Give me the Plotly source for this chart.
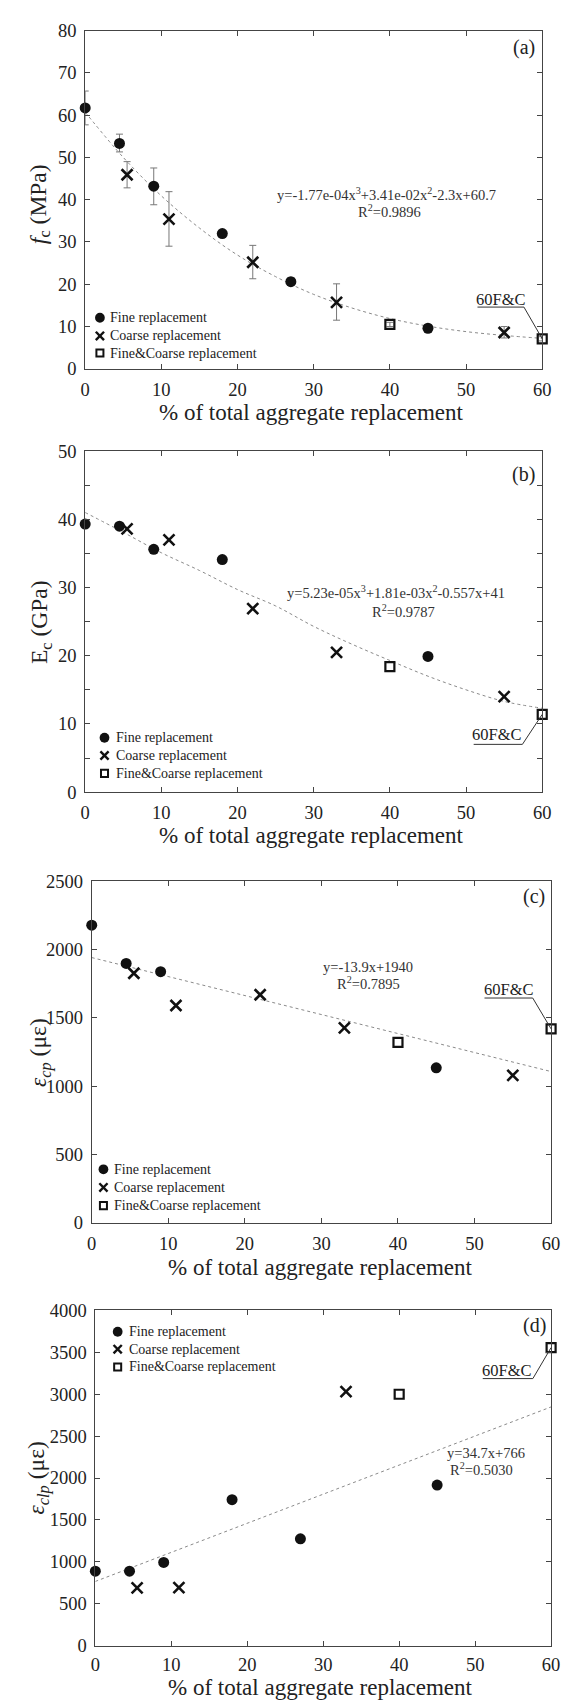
import plotly.graph_objects as go

W, H = 572, 1703
FONT = "Liberation Serif, Times New Roman, serif"
INK = "#111111"
AXC = "#444444"
TXT = "#222222"

# ---------------- data ----------------
trend_x = [0, 5, 10, 15, 20, 25, 30, 35, 40, 45, 50, 55, 60]

# (a) compressive strength f_c (MPa)
a_fine_x = [0, 4.5, 9, 18, 27, 45]
a_fine_y = [61.7, 53.3, 43.2, 32.0, 20.6, 9.6]
a_fine_ep = [4.0, 2.2, 4.3, 0.6, 0.9, 0.6]
a_fine_em = [4.0, 2.0, 4.4, 0.6, 0.9, 0.6]
a_coarse_x = [5.5, 11, 22, 33, 55]
a_coarse_y = [45.9, 35.4, 25.2, 15.7, 8.6]
a_coarse_ep = [3.1, 6.5, 4.0, 4.4, 1.4]
a_coarse_em = [3.1, 6.4, 3.9, 4.2, 1.3]
a_fc_x = [40, 60]
a_fc_y = [10.5, 7.1]
a_fc_e = [0.5, 0.5]
a_trend_y = [60.7, 50.0, 40.9, 33.3, 26.9, 21.8, 17.6, 14.4, 11.9, 10.1, 8.8, 7.9, 7.2]

# (b) elastic modulus E_c (GPa)
b_fine_x = [0, 4.5, 9, 18, 45]
b_fine_y = [39.3, 39.0, 35.6, 34.1, 19.9]
b_coarse_x = [5.5, 11, 22, 33, 55]
b_coarse_y = [38.6, 37.0, 26.9, 20.5, 14.0]
b_fc_x = [40, 60]
b_fc_y = [18.4, 11.4]
b_trend_y = [41.0, 38.1, 35.1, 32.5, 29.7, 27.3, 24.3, 21.7, 19.3, 17.0, 15.0, 13.3, 12.3]

# (c) peak strain eps_cp (micro-strain)
c_fine_x = [0, 4.5, 9, 45]
c_fine_y = [2177, 1897, 1837, 1133]
c_coarse_x = [5.5, 11, 22, 33, 55]
c_coarse_y = [1825, 1589, 1668, 1425, 1078]
c_fc_x = [40, 60]
c_fc_y = [1319, 1418]
c_trend_x = [0, 60]
c_trend_y = [1940, 1106]

# (d) eps_clp (micro-strain)
d_fine_x = [0, 4.5, 9, 18, 27, 45]
d_fine_y = [888, 888, 993, 1741, 1274, 1916]
d_coarse_x = [5.5, 11, 33]
d_coarse_y = [689, 693, 3030]
d_fc_x = [40, 60]
d_fc_y = [2999, 3556]
d_trend_x = [0, 60]
d_trend_y = [766, 2848]

legend_names = ["Fine replacement", "Coarse replacement", "Fine&amp;Coarse replacement"]
x_title = "% of total aggregate replacement"
y_titles = ["<i>f</i><sub>c</sub> (MPa)", "E<sub>c</sub> (GPa)",
            "<i>ε<sub>cp</sub></i> (με)", "<i>ε<sub>clp</sub></i> (με)"]
panel_tags = ["(a)", "(b)", "(c)", "(d)"]
eq_texts = ["y=-1.77e-04x<sup>3</sup>+3.41e-02x<sup>2</sup>-2.3x+60.7",
            "y=5.23e-05x<sup>3</sup>+1.81e-03x<sup>2</sup>-0.557x+41",
            "y=-13.9x+1940", "y=34.7x+766"]
r2_texts = ["R<sup>2</sup>=0.9896", "R<sup>2</sup>=0.9787",
            "R<sup>2</sup>=0.7895", "R<sup>2</sup>=0.5030"]

# ---------------- figure ----------------
fig = go.Figure()


def px_x(p):
    return p / W


def px_y(p):
    return 1 - p / H


fine_marker = dict(symbol="circle", size=11, color=INK)
coarse_marker = dict(symbol="x-thin", size=11, color=INK, line=dict(width=2.6, color=INK))
fc_marker = dict(symbol="square-open", size=9, color=INK, line=dict(width=2.2, color=INK))
trend_line = dict(color="#8a8a8a", width=1, dash="dot")


def add_panel(idx, fine, coarse, fc, trend, errs=None):
    xa = "x" if idx == 1 else f"x{idx}"
    ya = "y" if idx == 1 else f"y{idx}"
    fig.add_trace(go.Scatter(x=trend[0], y=trend[1], mode="lines", line=trend_line,
                             line_shape="spline", showlegend=False, xaxis=xa, yaxis=ya,
                             hoverinfo="skip"))
    if errs:
        for (ex, ey, ep, em) in errs:
            fig.add_trace(go.Scatter(x=ex, y=ey, mode="markers",
                                     marker=dict(size=1, color="rgba(0,0,0,0)"),
                                     error_y=dict(type="data", array=ep, arrayminus=em,
                                                  color="#777777", thickness=1, width=3.5),
                                     showlegend=False, xaxis=xa, yaxis=ya, cliponaxis=False))
    for (sx, sy), mk, nm in zip([fine, coarse, fc], [fine_marker, coarse_marker, fc_marker],
                                legend_names):
        fig.add_trace(go.Scatter(x=sx, y=sy, mode="markers", marker=mk, name=nm,
                                 xaxis=xa, yaxis=ya, showlegend=False, cliponaxis=False))


add_panel(1, (a_fine_x, a_fine_y), (a_coarse_x, a_coarse_y), (a_fc_x, a_fc_y),
          (trend_x, a_trend_y),
          errs=[(a_fine_x, a_fine_y, a_fine_ep, a_fine_em),
                (a_coarse_x, a_coarse_y, a_coarse_ep, a_coarse_em),
                (a_fc_x, a_fc_y, a_fc_e, a_fc_e)])
add_panel(2, (b_fine_x, b_fine_y), (b_coarse_x, b_coarse_y), (b_fc_x, b_fc_y),
          (trend_x, b_trend_y))
add_panel(3, (c_fine_x, c_fine_y), (c_coarse_x, c_coarse_y), (c_fc_x, c_fc_y),
          (c_trend_x, c_trend_y))
add_panel(4, (d_fine_x, d_fine_y), (d_coarse_x, d_coarse_y), (d_fc_x, d_fc_y),
          (d_trend_x, d_trend_y))

# panel geometry in pixels: (left, right, top, bottom)
geo = {
    1: (74, 542.5, 12.7, 355),
    2: (74, 542.5, 438.3, 783.3),
    3: (80.7, 551.6, 873.3, 1219),
    4: (84.4, 551.6, 1307.7, 1647),
}
yranges = {1: (0, 80, 10), 2: (0, 50, 10), 3: (0, 2500, 500), 4: (0, 4000, 500)}
x_standoff = {1: 4, 2: 4, 3: 4, 4: 2}

axis_common = dict(showline=True, linecolor=AXC, linewidth=1, mirror="ticks",
                   ticks="inside", ticklen=5, tickcolor=AXC, tickwidth=1,
                   showgrid=False, zeroline=False,
                   tickfont=dict(family=FONT, size=18.5, color=TXT))

layout = dict(width=W, height=H, margin=dict(l=0, r=0, t=0, b=0),
              paper_bgcolor="white", plot_bgcolor="white",
              font=dict(family=FONT, color=TXT), showlegend=False)

for i in range(1, 5):
    l, r, t, b = geo[i]
    xk = "xaxis" if i == 1 else f"xaxis{i}"
    yk = "yaxis" if i == 1 else f"yaxis{i}"
    ya = "y" if i == 1 else f"y{i}"
    xa = "x" if i == 1 else f"x{i}"
    lo, hi, dt = yranges[i]
    layout[xk] = dict(axis_common, domain=[px_x(l), px_x(r)], range=[0, 60], dtick=10,
                      tick0=0, anchor=ya, ticklabelstandoff=x_standoff[i])
    ydict = dict(axis_common, domain=[px_y(b), px_y(t)], range=[lo, hi], dtick=dt,
                 tick0=0, anchor=xa, ticklabelstandoff=4)
    if i == 2:
        ydict["minor"] = dict(dtick=5, ticks="inside", ticklen=5, tickcolor=AXC)
    layout[yk] = ydict

fig.update_layout(**layout)

ann = []
shapes = []


def text(xref, yref, x, y, s, size, color=TXT, angle=0, xanchor="center"):
    ann.append(dict(xref=xref, yref=yref, x=x, y=y, text=s, showarrow=False,
                    font=dict(family=FONT, size=size, color=color), textangle=angle,
                    xanchor=xanchor, yanchor="middle"))


# axis titles (paper, pixel positions)
x_title_pos = [(306, 399), (306, 827), (315, 1264), (315, 1689)]
y_title_pos = [(27, 188), (29, 611), (27, 1047), (25.5, 1477)]
for (xp, yp), (tx, ty), yt in zip(x_title_pos, y_title_pos, y_titles):
    text("paper", "paper", px_x(xp), px_y(yp), x_title, 23)
    text("paper", "paper", px_x(tx), px_y(ty), yt, 23.5, angle=-90)

# panel labels, equations (data positions)
refs = [("x", "y"), ("x2", "y2"), ("x3", "y3"), ("x4", "y4")]
tag_pos = [(57.6, 75.9), (57.6, 46.6), (57.8, 2384), (57.8, 3817)]
eq_pos = [(39.6, 41.3), (40.8, 29.4), (36.1, 1873), (51.4, 2298)]
r2_pos = [(40.0, 37.4), (41.8, 26.6), (36.1, 1753), (50.9, 2103)]
EQ = "#333333"
for (xr, yr), tg, tp, eq, ep, r2, rp in zip(refs, panel_tags, tag_pos, eq_texts, eq_pos,
                                           r2_texts, r2_pos):
    text(xr, yr, tp[0], tp[1], tg, 20)
    text(xr, yr, ep[0], ep[1], eq, 14.5, EQ)
    text(xr, yr, rp[0], rp[1], r2, 14.5, EQ)

# 60F&C callouts: (xref, yref, text_x, text_y, underline_y, x0, x1, target_x, target_y)
callouts = [
    ("x", "y", 54.6, 16.5, 14.6, 51.5, 57.6, a_fc_x[-1], a_fc_y[-1]),
    ("x2", "y2", 54.1, 8.4, 7.0, 51.0, 57.4, b_fc_x[-1], b_fc_y[-1]),
    ("x3", "y3", 54.5, 1710, 1644, 51.3, 57.6, c_fc_x[-1], c_fc_y[-1]),
    ("x4", "y4", 54.2, 3285, 3186, 51.0, 57.6, d_fc_x[-1], d_fc_y[-1]),
]
for xr, yr, tx, ty, uy, x0, x1, px, py in callouts:
    text(xr, yr, tx, ty, "60F&amp;C", 16.5)
    shapes.append(dict(type="line", xref=xr, yref=yr, x0=x0, x1=x1, y0=uy, y1=uy,
                       line=dict(color="#333333", width=1)))
    shapes.append(dict(type="line", xref=xr, yref=yr, x0=x1, x1=px, y0=uy, y1=py,
                       line=dict(color="#333333", width=1)))

# hand-placed legends (pixel positions): marker centre x, text start x, row y's
legend_geo = [
    (89.1, 97.5, [303.3, 321.7, 339.0]),
    (93.8, 103.6, [728.3, 746.3, 764.3]),
    (92.7, 101.0, [1165.0, 1183.3, 1201.7]),
    (107.3, 117.1, [1329.3, 1347.0, 1365.0]),
]
for mx, tx, rows in legend_geo:
    r = 5.0
    cy = rows[0]
    shapes.append(dict(type="circle", xref="paper", yref="paper",
                       x0=px_x(mx - r), x1=px_x(mx + r), y0=px_y(cy + r), y1=px_y(cy - r),
                       fillcolor=INK, line=dict(width=0)))
    s = 4.2
    cy = rows[1]
    for sgn in (1, -1):
        shapes.append(dict(type="line", xref="paper", yref="paper",
                           x0=px_x(mx - s), x1=px_x(mx + s),
                           y0=px_y(cy - sgn * s), y1=px_y(cy + sgn * s),
                           line=dict(color=INK, width=2.4)))
    q = 3.6
    cy = rows[2]
    shapes.append(dict(type="rect", xref="paper", yref="paper",
                       x0=px_x(mx - q), x1=px_x(mx + q), y0=px_y(cy + q), y1=px_y(cy - q),
                       fillcolor="rgba(0,0,0,0)", line=dict(color=INK, width=2)))
    for nm, cy in zip(legend_names, rows):
        text("paper", "paper", px_x(tx), px_y(cy), nm, 14, xanchor="left")

fig.update_layout(annotations=ann, shapes=shapes)
fig.write_html("out.html")
